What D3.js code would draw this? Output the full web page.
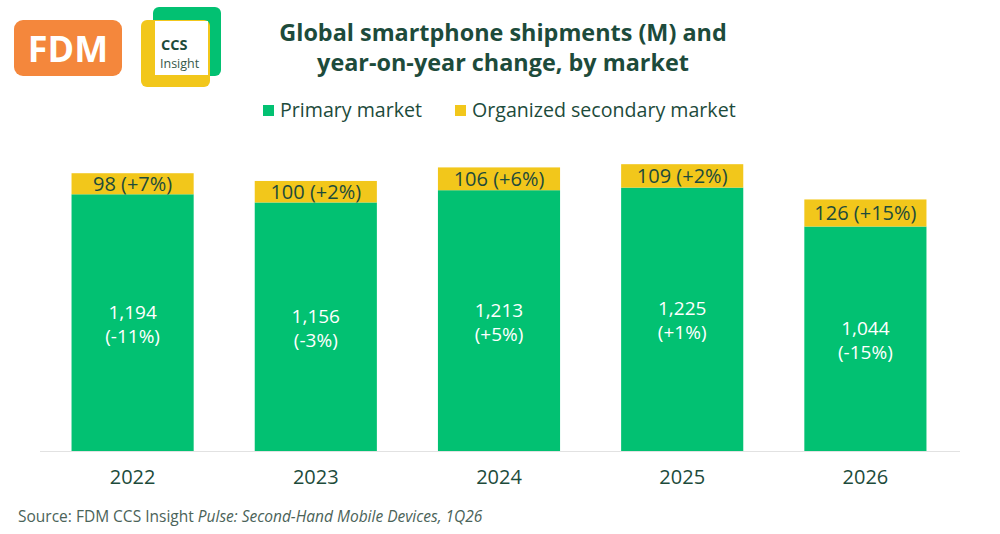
<!DOCTYPE html>
<html>
<head>
<meta charset="utf-8">
<script src="https://cdn.jsdelivr.net/npm/d3@7"></script>
<style>
  body { margin: 0; background: #fff; }
  svg text { font-family: "Open Sans", sans-serif; }
</style>
</head>
<body>
<div id="chart"></div>
<script>
const years = ["2022", "2023", "2024", "2025", "2026"];
const primary = [1194, 1156, 1213, 1225, 1044];
const primaryChange = ["-11%", "-3%", "+5%", "+1%", "-15%"];
const secondary = [98, 100, 106, 109, 126];
const secondaryChange = ["+7%", "+2%", "+6%", "+2%", "+15%"];
const seriesNames = ["Primary market", "Organized secondary market"];

const width = 1000, height = 534;
const green = "#02c172", yellow = "#f2c71b", dark = "#1d4b3b";

const svg = d3.select("#chart").append("svg")
    .attr("width", width)
    .attr("height", height);

// logos
const logo = svg.append("g");
logo.append("rect").attr("x", 14).attr("y", 20).attr("width", 108).attr("height", 56)
    .attr("rx", 9).attr("fill", "#f4873c");
logo.append("text").attr("x", 68).attr("y", 62).attr("text-anchor", "middle")
    .attr("fill", "#fff").attr("font-size", 36).attr("font-weight", 700).text("FDM");
logo.append("rect").attr("x", 153).attr("y", 7).attr("width", 68).attr("height", 69)
    .attr("rx", 6).attr("fill", green);
logo.append("rect").attr("x", 141).attr("y", 20).attr("width", 69).attr("height", 67)
    .attr("rx", 6).attr("fill", yellow);
logo.append("rect").attr("x", 155).attr("y", 21).attr("width", 53).attr("height", 54)
    .attr("fill", "#fff");
logo.append("text").attr("x", 161).attr("y", 50).attr("fill", dark)
    .attr("font-size", 14.5).attr("font-weight", 700).text("CCS");
logo.append("text").attr("x", 160).attr("y", 68).attr("fill", "#35584a")
    .attr("font-size", 12.5).text("Insight");

// title
svg.append("text").attr("x", 503).attr("y", 41).attr("text-anchor", "middle")
    .attr("fill", dark).attr("font-size", 23.4).attr("font-weight", 700)
    .text("Global smartphone shipments (M) and");
svg.append("text").attr("x", 503).attr("y", 71).attr("text-anchor", "middle")
    .attr("fill", dark).attr("font-size", 23.4).attr("font-weight", 700)
    .text("year-on-year change, by market");

// legend
const legend = svg.append("g");
[[263, green, seriesNames[0]], [455, yellow, seriesNames[1]]].forEach(([lx, c, t]) => {
    legend.append("rect").attr("x", lx).attr("y", 105).attr("width", 11).attr("height", 11).attr("fill", c);
    legend.append("text").attr("x", lx + 17).attr("y", 116.5).attr("fill", dark)
        .attr("font-size", 19.6).text(t);
});

// scales
const x = d3.scaleBand().domain(years).range([41, 957]).paddingInner(1 / 3).paddingOuter(1 / 6);
const y = d3.scaleLinear().domain([0, 1400]).range([451, 150]);

const g = svg.append("g");

g.selectAll("rect.primary").data(years).enter().append("rect")
    .attr("class", "primary")
    .attr("x", d => x(d)).attr("width", x.bandwidth())
    .attr("y", (d, i) => y(primary[i]))
    .attr("height", (d, i) => y(0) - y(primary[i]))
    .attr("fill", green);

g.selectAll("rect.secondary").data(years).enter().append("rect")
    .attr("class", "secondary")
    .attr("x", d => x(d)).attr("width", x.bandwidth())
    .attr("y", (d, i) => y(primary[i] + secondary[i]))
    .attr("height", (d, i) => y(primary[i]) - y(primary[i] + secondary[i]))
    .attr("fill", yellow);

// labels
const cx = d => x(d) + x.bandwidth() / 2;
g.selectAll("text.sec").data(years).enter().append("text")
    .attr("class", "sec")
    .attr("x", cx)
    .attr("y", (d, i) => (y(primary[i]) + y(primary[i] + secondary[i])) / 2 + 7)
    .attr("text-anchor", "middle").attr("fill", dark).attr("font-size", 20)
    .text((d, i) => `${secondary[i]} (${secondaryChange[i]})`);

const fmt = d3.format(",");
g.selectAll("text.prim").data(years).enter().append("text")
    .attr("class", "prim")
    .attr("x", cx)
    .attr("y", (d, i) => (y(0) + y(primary[i])) / 2 - 4)
    .attr("text-anchor", "middle").attr("fill", "#fff").attr("font-size", 19)
    .each(function (d, i) {
        const t = d3.select(this);
        t.append("tspan").attr("x", cx(d)).text(fmt(primary[i]));
        t.append("tspan").attr("x", cx(d)).attr("dy", 24).text(`(${primaryChange[i]})`);
    });

// axis
const axis = svg.append("g").attr("transform", `translate(0,${y(0)})`)
    .call(d3.axisBottom(x).tickSize(0).tickPadding(19));
axis.select(".domain").attr("stroke", "#e2e2e2").attr("d", "M40,0.5H960");
axis.selectAll("text").attr("font-size", 20).attr("fill", dark)
    .attr("font-family", "Open Sans, sans-serif");

// source
const src = svg.append("text").attr("x", 18).attr("y", 522)
    .attr("fill", "#4b6359").attr("font-size", 15.5);
src.append("tspan").text("Source: FDM CCS Insight ");
src.append("tspan").attr("font-style", "italic").text("Pulse: Second-Hand Mobile Devices, 1Q26");
</script>
</body>
</html>
